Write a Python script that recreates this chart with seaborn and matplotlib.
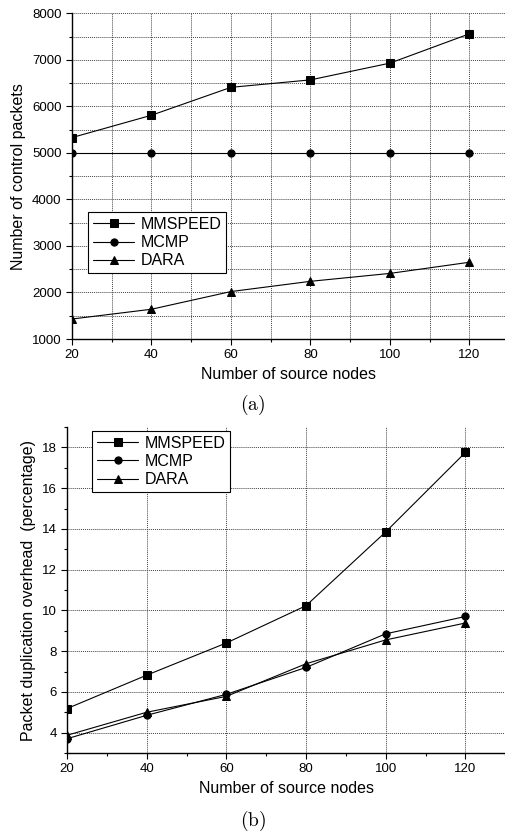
import matplotlib
matplotlib.use("Agg")
import matplotlib.pyplot as plt
from matplotlib.ticker import MultipleLocator
import pandas as pd
import seaborn as sns

nodes = [20, 40, 60, 80, 100, 120]
series = ["MMSPEED", "MCMP", "DARA"]

# (a) control packets
ctrl_mmspeed = [5330, 5810, 6410, 6570, 6930, 7560]
ctrl_mcmp = [5000, 5000, 5000, 5000, 5000, 5000]
ctrl_dara = [1430, 1640, 2020, 2240, 2410, 2650]

# (b) duplication overhead (%)
dup_mmspeed = [5.18, 6.82, 8.40, 10.23, 13.85, 17.75]
dup_mcmp = [3.70, 4.85, 5.88, 7.20, 8.85, 9.70]
dup_dara = [3.87, 5.00, 5.78, 7.38, 8.55, 9.38]


def long_df(values):
    rows = []
    for name, vals in zip(series, values):
        for n, v in zip(nodes, vals):
            rows.append({"nodes": n, "value": v, "series": name})
    return pd.DataFrame(rows)


sns.set_style("ticks")
plt.rcParams["font.family"] = ["Liberation Sans", "DejaVu Sans"]
plt.rcParams["mathtext.fontset"] = "cm"
plt.rcParams["text.color"] = "black"
plt.rcParams["axes.labelcolor"] = "black"
plt.rcParams["xtick.color"] = "black"
plt.rcParams["ytick.color"] = "black"

fig = plt.figure(figsize=(5.06, 8.35), dpi=100)
ax1 = fig.add_axes([0.1423, 0.594, 0.856, 0.390])
ax2 = fig.add_axes([0.1324, 0.0982, 0.866, 0.3904])

markers = {"MMSPEED": "s", "MCMP": "o", "DARA": "^"}
palette = {s: "black" for s in series}
dashes = {s: "" for s in series}


def draw(ax, df):
    sns.lineplot(data=df, x="nodes", y="value", hue="series", style="series",
                 markers=markers, dashes=dashes, palette=palette,
                 markersize=5.2, linewidth=0.8, markeredgecolor="black",
                 ax=ax)
    for sp in ["top", "right"]:
        ax.spines[sp].set_visible(False)
    for sp in ["left", "bottom"]:
        ax.spines[sp].set_linewidth(1.0)
        ax.spines[sp].set_color("black")
    ax.tick_params(which="major", length=4, width=0.8, labelsize=9.5,
                   colors="black")
    ax.tick_params(which="minor", length=2.5, width=0.8, colors="black")
    ax.set_xlabel("Number of source nodes", fontsize=11.5)


def legend(ax, **kw):
    leg = ax.legend(borderaxespad=0, fontsize=11.5, frameon=True,
                    fancybox=False, edgecolor="black", framealpha=1,
                    handlelength=2.6, labelspacing=0.2, borderpad=0.3,
                    handletextpad=0.4, labelcolor="black", **kw)
    leg.get_frame().set_linewidth(0.8)
    return leg


draw(ax1, long_df([ctrl_mmspeed, ctrl_mcmp, ctrl_dara]))
ax1.set_xlim(20, 129)
ax1.set_ylim(1000, 8000)
ax1.xaxis.set_major_locator(MultipleLocator(20))
ax1.xaxis.set_minor_locator(MultipleLocator(10))
ax1.yaxis.set_major_locator(MultipleLocator(1000))
ax1.yaxis.set_minor_locator(MultipleLocator(500))
ax1.grid(which="both", linestyle=(0, (1, 1)), color="#444444", linewidth=0.7)
ax1.set_ylabel("Number of control packets", fontsize=11.5)
legend(ax1, loc="lower left", bbox_to_anchor=(0.037, 0.202))

draw(ax2, long_df([dup_mmspeed, dup_mcmp, dup_dara]))
ax2.set_xlim(20, 130)
ax2.set_ylim(3, 19)
ax2.xaxis.set_major_locator(MultipleLocator(20))
ax2.xaxis.set_minor_locator(MultipleLocator(10))
ax2.yaxis.set_major_locator(MultipleLocator(2))
ax2.yaxis.set_minor_locator(MultipleLocator(1))
ax2.grid(which="major", linestyle=(0, (1, 1)), color="#444444", linewidth=0.7)
ax2.set_ylabel("Packet duplication overhead  (percentage)", fontsize=11.5)
legend(ax2, loc="upper left", bbox_to_anchor=(0.057, 0.988))

fig.text(0.5, 1 - 417 / 835, r"$\mathrm{(a)}$", ha="center", va="bottom",
         fontsize=14)
fig.text(0.5, 0.002, r"$\mathrm{(b)}$", ha="center", va="bottom",
         fontsize=14)

plt.savefig("out.png", dpi=100)
